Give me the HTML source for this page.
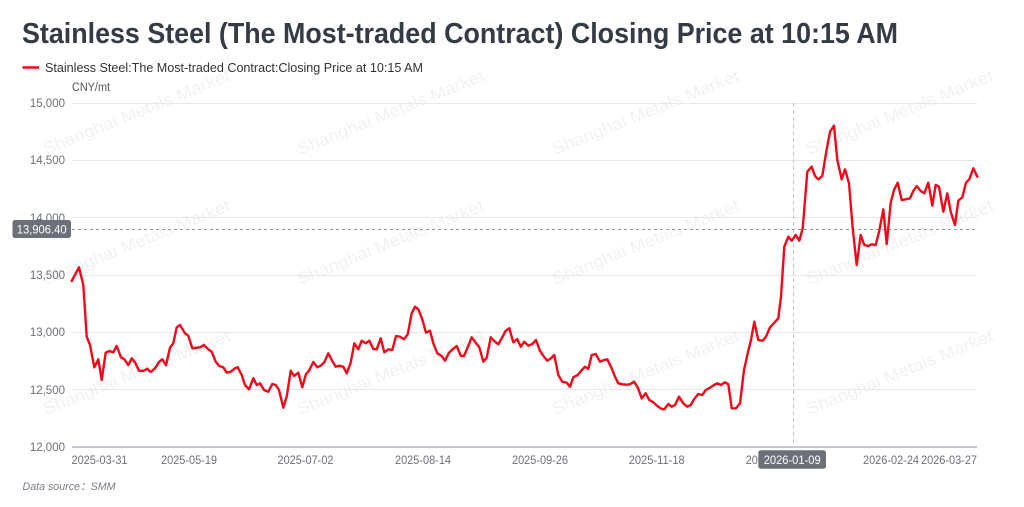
<!DOCTYPE html>
<html><head><meta charset="utf-8"><style>
html,body{margin:0;padding:0;background:#fff;}
svg{display:block;}
</style></head><body>
<svg width="1024" height="507" viewBox="0 0 1024 507" xmlns="http://www.w3.org/2000/svg" font-family="'Liberation Sans', sans-serif">
<rect width="1024" height="507" fill="#fff"/>
<!-- watermarks -->
<g fill="#000" fill-opacity="0.055" font-size="17">
<text x="46" y="155" transform="rotate(-22 46 155)" textLength="200" lengthAdjust="spacingAndGlyphs">Shanghai Metals Market</text>
<text x="300" y="155" transform="rotate(-22 300 155)" textLength="200" lengthAdjust="spacingAndGlyphs">Shanghai Metals Market</text>
<text x="555" y="155" transform="rotate(-22 555 155)" textLength="200" lengthAdjust="spacingAndGlyphs">Shanghai Metals Market</text>
<text x="809" y="155" transform="rotate(-22 809 155)" textLength="200" lengthAdjust="spacingAndGlyphs">Shanghai Metals Market</text>
<text x="46" y="285" transform="rotate(-22 46 285)" textLength="200" lengthAdjust="spacingAndGlyphs">Shanghai Metals Market</text>
<text x="300" y="285" transform="rotate(-22 300 285)" textLength="200" lengthAdjust="spacingAndGlyphs">Shanghai Metals Market</text>
<text x="555" y="285" transform="rotate(-22 555 285)" textLength="200" lengthAdjust="spacingAndGlyphs">Shanghai Metals Market</text>
<text x="809" y="285" transform="rotate(-22 809 285)" textLength="200" lengthAdjust="spacingAndGlyphs">Shanghai Metals Market</text>
<text x="46" y="415" transform="rotate(-22 46 415)" textLength="200" lengthAdjust="spacingAndGlyphs">Shanghai Metals Market</text>
<text x="300" y="415" transform="rotate(-22 300 415)" textLength="200" lengthAdjust="spacingAndGlyphs">Shanghai Metals Market</text>
<text x="555" y="415" transform="rotate(-22 555 415)" textLength="200" lengthAdjust="spacingAndGlyphs">Shanghai Metals Market</text>
<text x="809" y="415" transform="rotate(-22 809 415)" textLength="200" lengthAdjust="spacingAndGlyphs">Shanghai Metals Market</text>
</g>
<!-- title -->
<text x="22" y="43" font-size="29" font-weight="bold" fill="#353a44" textLength="876" lengthAdjust="spacingAndGlyphs">Stainless Steel (The Most-traded Contract) Closing Price at 10:15 AM</text>
<!-- legend -->
<line x1="22.5" y1="67.5" x2="39" y2="67.5" stroke="#ee0a1b" stroke-width="2.5"/>
<text x="45" y="72" font-size="12.5" fill="#333" textLength="378" lengthAdjust="spacingAndGlyphs">Stainless Steel:The Most-traded Contract:Closing Price at 10:15 AM</text>
<text x="72" y="91" font-size="11.5" fill="#555" textLength="38" lengthAdjust="spacingAndGlyphs">CNY/mt</text>
<!-- grid -->
<g stroke="#e8e8ec" stroke-width="1">
<line x1="72" y1="103.5" x2="977" y2="103.5"/>
<line x1="72" y1="160.5" x2="977" y2="160.5"/>
<line x1="72" y1="217.5" x2="977" y2="217.5"/>
<line x1="72" y1="275.5" x2="977" y2="275.5"/>
<line x1="72" y1="332.5" x2="977" y2="332.5"/>
<line x1="72" y1="389.5" x2="977" y2="389.5"/>
</g>
<line x1="72" y1="447" x2="977" y2="447" stroke="#b4b7c1" stroke-width="1.5"/>
<!-- y labels -->
<g font-size="11.5" fill="#6e7079" text-anchor="end">
<text x="65" y="107">15,000</text>
<text x="65" y="164">14,500</text>
<text x="65" y="222">14,000</text>
<text x="65" y="279">13,500</text>
<text x="65" y="336">13,000</text>
<text x="65" y="394">12,500</text>
<text x="65" y="451">12,000</text>
</g>
<!-- x labels -->
<g font-size="11.5" fill="#6e7079" text-anchor="middle">
<text x="99.5" y="464" textLength="56" lengthAdjust="spacingAndGlyphs">2025-03-31</text>
<text x="189" y="464" textLength="56" lengthAdjust="spacingAndGlyphs">2025-05-19</text>
<text x="305.5" y="464" textLength="56" lengthAdjust="spacingAndGlyphs">2025-07-02</text>
<text x="423" y="464" textLength="56" lengthAdjust="spacingAndGlyphs">2025-08-14</text>
<text x="540" y="464" textLength="56" lengthAdjust="spacingAndGlyphs">2025-09-26</text>
<text x="656.7" y="464" textLength="56" lengthAdjust="spacingAndGlyphs">2025-11-18</text>
<text x="773.7" y="464" textLength="56" lengthAdjust="spacingAndGlyphs">2025-12-30</text>
<text x="891" y="464" textLength="56" lengthAdjust="spacingAndGlyphs">2026-02-24</text>
<text x="949" y="464" textLength="56" lengthAdjust="spacingAndGlyphs">2026-03-27</text>
</g>
<!-- crosshair -->
<line x1="793.5" y1="103" x2="793.5" y2="447" stroke="#c4c6cf" stroke-width="1" stroke-dasharray="4,3"/>
<line x1="72" y1="229.5" x2="977" y2="229.5" stroke="#9a9a9a" stroke-width="1" stroke-dasharray="3,3"/>
<!-- series -->
<polyline fill="none" stroke="#ee0a1b" stroke-width="2.4" stroke-linejoin="round" stroke-linecap="round" points="
71.7,281 79,267.3 83.3,285 86.7,336.7 90,345 94.3,367.3 98.3,359.3 101.7,380 105.7,352.7 109.3,351 113.3,352.3 116.7,346 121,357.3 124.3,359.3 128.3,365 131.7,358.3 135,362.3 139,370.7 143.3,371 147.3,368.7 150.7,372 155,368.3 159,362 162.3,359.3 166,365.3 170,347.7 173.3,343.3 176.7,327.3 180,325 185,333.3 188.3,335.7 192.3,348.3 196.7,347.7 200,347.3 204,345 208.3,349.3 211.7,351.7 215.7,361.7 219.3,366 223.3,367.3 226.7,372.7 230.7,371.7 235,368.3 237.7,367.3 241.7,375 245,385 249,389.3 253.3,378.3 256.7,385 260,383.3 264,390 268.3,391.7 272.3,384 275.7,385 279,390 283.3,407.7 286.7,396.7 290.7,370.7 294,376 298.3,372.7 302.3,387.3 306,374 309,370.7 313.3,362 317.3,367.3 320.7,365.7 324.3,362.3 328.3,353.3 332.3,361 335.7,366.7 339.3,365.7 343.3,366.7 346.7,373.3 350.7,362.7 354.3,343.3 358.3,349.3 361.7,340.7 365.7,343.3 369.3,340.7 373.3,349 376.7,349.3 380.7,338.3 384.3,352.3 388.3,349.3 392.3,350 396,336 400,336.7 404,339.3 407.7,334.3 411.7,313.3 415,306.7 418.3,309.3 422.3,319.3 426,332.7 430,330.7 433.3,343.3 437.3,353.3 441.7,356 445,360.7 449,352.7 452.7,349.3 456.7,346 460.7,355.7 464,356 467.7,347.3 471.7,337.3 475.7,342.7 479.3,347.3 483.3,361.7 486.7,357.7 490.7,337.3 494.3,341 498.3,344.3 501.7,338.3 505.7,330.7 509.3,328.3 513.3,342.3 517.3,339 520.7,346.7 524.3,341.7 528.3,345.7 532.3,344 536,340 540,351 543.3,355.7 547.3,360.7 551,358.3 554.3,355 558.3,375 562.3,381.7 566.7,382.7 570,386.7 573.3,377.3 577.7,375 581,371 585,366.7 588.3,369 591.7,355 595.7,354 600,361.7 604,360 607.3,359.3 611.7,368.3 615,376.7 618.3,383.3 622.7,384.3 626.7,384.7 630,384.3 634,381.7 637.7,387.3 641.7,398.3 645.7,393.3 649.3,400 653.3,402.3 657.3,406 661.7,409 664.3,409.3 668.3,404 671.7,406.7 675,405 679,396.7 683.3,403.3 687.3,406.7 690.7,405 694,399.3 698.3,394 702.3,395 705.7,390 710,387.7 714,385 717.3,383.3 721,385 725,382.3 728.3,384.3 731.7,408.3 736,408.3 740,403.3 744,370 748,352 751,340 754.3,321.7 758.3,340 762.7,340.7 766,336.7 770,327.3 774.3,322.7 778.3,318.3 781,296.7 784.3,246.7 788.3,236.7 791.7,240.7 795.7,235 799.3,240.7 802.7,228.3 807.3,171.7 811.7,166.7 815,176 818.3,179.3 822.3,176 826,153.3 830,131.7 834,125.7 837.3,160 841.7,179.3 845,169.3 849,183.3 852.7,228.3 856.7,265 860.7,235 864.3,245 868.3,246 871.7,244.3 875.7,245 879.3,230.7 883.3,209.3 886.7,244 890.7,202.7 894,190 897.7,182.7 901.7,200 905.7,199.3 910,198.3 913.3,191 916.7,186 920.7,191 924.3,193.3 928.3,182.7 932.3,205.7 935.7,185 939,186.7 943.3,211.7 947.3,193.3 950.7,211.7 955,225 958.3,200.7 962.3,197.3 966,182.7 969.3,179.3 973.3,168.3 977.3,176.7"/>
<!-- axis pointer labels -->
<rect x="12.5" y="220" width="58.5" height="18" rx="2.5" fill="#6e7079"/>
<text x="41.7" y="233.3" font-size="12" fill="#fff" text-anchor="middle" textLength="50" lengthAdjust="spacingAndGlyphs">13,906.40</text>
<rect x="758.3" y="450.3" width="67.7" height="18.4" rx="2.5" fill="#6e7079"/>
<text x="792.2" y="464" font-size="12" fill="#fff" text-anchor="middle" textLength="57" lengthAdjust="spacingAndGlyphs">2026-01-09</text>
<!-- source -->
<text x="22.5" y="490" font-size="11" font-style="italic" fill="#7a7f88" textLength="93" lengthAdjust="spacingAndGlyphs">Data source：SMM</text>
</svg>
</body></html>
